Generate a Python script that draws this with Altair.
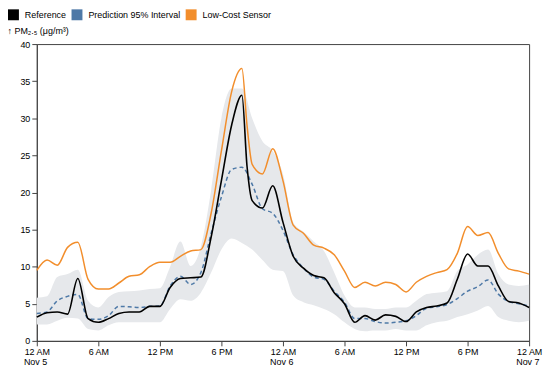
import altair as alt
import pandas as pd

start = "2023-11-05T00:00:00"

# hourly readings, Nov 5 00:00 .. Nov 7 00:00
reference = [3.2, 3.8, 3.9, 3.6, 8.4, 3.0, 2.5, 3.0, 3.7, 3.9, 3.9, 4.65, 4.65,
             7.2, 8.4, 8.5, 8.6, 14.0, 21.6, 29.1, 33.1, 18.9, 17.9, 20.9, 16.0,
             11.4, 9.8, 8.8, 8.5, 6.5, 5.0, 2.5, 3.4, 2.8, 3.5, 3.3, 2.6,
             3.9, 4.5, 4.7, 5.1, 8.3, 11.7, 10.1, 10.1, 7.4, 5.3, 5.1, 4.5]
pred_mean = [3.7, 3.9, 5.4, 6.0, 6.25, 3.0, 2.9, 3.4, 4.65, 4.6, 4.5, 4.65, 4.7,
             7.4, 8.7, 7.6, 9.2, 14.5, 19.4, 23.1, 23.4, 21.1, 17.8, 17.2, 14.9,
             11.6, 9.8, 8.6, 8.3, 6.7, 5.2, 3.0, 3.0, 2.6, 2.4, 2.5, 2.7,
             3.4, 4.4, 4.6, 4.9, 5.7, 6.7, 7.3, 8.2, 6.3, 5.3, 5.0, 4.7]
sensor = [9.5, 10.9, 10.2, 12.6, 13.3, 8.3, 7.0, 7.0, 7.8, 8.7, 8.9, 10.0, 10.6,
          10.6, 11.4, 12.1, 12.3, 17.2, 25.6, 33.6, 36.7, 23.8, 22.5, 25.9, 21.6,
          15.6, 14.5, 12.9, 12.5, 11.6, 9.4, 7.2, 7.9, 7.4, 7.9, 7.6, 6.6,
          7.9, 8.7, 9.2, 9.6, 11.8, 15.4, 14.2, 14.6, 11.8, 9.7, 9.4, 9.0]
pred_hi = [5.8, 6.0, 8.6, 9.0, 9.6, 5.4, 4.5, 5.9, 6.6, 6.7, 6.8, 7.0, 7.1,
           10.0, 13.4, 10.1, 12.7, 20.3, 30.0, 34.0, 34.0, 30.0, 26.9, 25.6, 22.5,
           16.0, 14.7, 13.4, 12.1, 9.2, 6.1, 4.5, 4.5, 4.3, 4.3, 4.5, 4.5,
           5.4, 6.3, 6.5, 6.7, 9.4, 10.3, 11.6, 12.3, 9.0, 7.6, 7.4, 7.6]
pred_lo = [2.2, 2.2, 2.7, 3.1, 3.0, 1.6, 1.4, 2.1, 2.5, 2.5, 2.5, 2.5, 2.5,
           4.3, 5.6, 5.4, 6.5, 9.2, 12.3, 13.8, 13.2, 12.3, 10.9, 9.6, 9.4,
           6.1, 5.2, 4.8, 4.3, 3.6, 2.5, 1.6, 1.3, 1.4, 1.4, 1.6, 1.4,
           1.4, 2.1, 2.5, 2.7, 3.2, 3.6, 4.1, 4.7, 3.2, 2.7, 2.5, 2.7]

# extra half-hour readings (sharp drop after the evening peak)
extra_times = ["2023-11-05T20:30:00"]
extra_reference = [23.5]
extra_sensor = [29.0]

series_names = ["Reference", "Prediction 95% Interval", "Low-Cost Sensor"]
series_colors = ["#000000", "#4e79a7", "#f28e2c"]
y_ticks = [0, 5, 10, 15, 20, 25, 30, 35, 40]
date_times = ["2023-11-05T00:00:00", "2023-11-06T00:00:00", "2023-11-07T00:00:00"]
date_labels = ["Nov 5", "Nov 6", "Nov 7"]

times = pd.date_range(start, periods=len(reference), freq="h")
df = pd.DataFrame({
    "time": times.strftime("%Y-%m-%dT%H:%M:%S"),
    "reference": reference,
    "mean": pred_mean,
    "sensor": sensor,
    "hi": pred_hi,
    "lo": pred_lo,
})
ref_df = pd.concat([
    df[["time", "reference"]],
    pd.DataFrame({"time": extra_times, "reference": extra_reference}),
]).sort_values("time")
sensor_df = pd.concat([
    df[["time", "sensor"]],
    pd.DataFrame({"time": extra_times, "sensor": extra_sensor}),
]).sort_values("time")

legend_df = pd.DataFrame({"series": series_names,
                          "time": [start] * 3,
                          "v": [0] * 3})
dates_df = pd.DataFrame({"time": date_times, "label": date_labels})

FONT = "Liberation Sans"
FS = 9
DARK = "#444444"
W, H = 496, 299

xscale = alt.Scale(nice=False)
yscale = alt.Scale(domain=[0, 40], nice=False)

xaxis = alt.Axis(
    title=None,
    format="%-I %p",
    tickCount=8,
    labelFlush=False, labelOverlap=False,
    tickSize=5, grid=False, labelPadding=2,
)
yaxis = alt.Axis(
    title="↑ PM₂.₅ (μg/m³)", values=y_ticks,
    titleAngle=0, titleAlign="left", titleX=-30, titleY=-9,
    titleFontWeight="normal",
    tickSize=5, grid=False, labelPadding=2,
)

x_enc = alt.X("time:T", scale=xscale, axis=xaxis)

band = alt.Chart(df).mark_area(interpolate="monotone", color="#e6e8eb").encode(
    x=x_enc,
    y=alt.Y("lo:Q", scale=yscale, axis=yaxis),
    y2="hi:Q",
)

legend_layer = alt.Chart(legend_df).mark_point(
    shape="square", filled=True, size=0, opacity=1, strokeWidth=0
).encode(
    x=x_enc,
    y=alt.Y("v:Q", scale=yscale, axis=yaxis),
    color=alt.Color(
        "series:N",
        scale=alt.Scale(domain=series_names, range=series_colors),
        legend=alt.Legend(
            title=None, orient="none", legendX=-29, legendY=-35,
            direction="horizontal", symbolType="square", symbolSize=121,
            symbolStrokeWidth=0, symbolOpacity=1, labelFontSize=FS,
            columnPadding=5, labelOffset=6, labelColor="#000000",
        ),
    ),
)

date_text = alt.Chart(dates_df).mark_text(
    align="left", baseline="top", dx=-13, font=FONT, fontSize=FS,
    color="#000000", clip=False,
).encode(
    x=x_enc,
    y=alt.value(H + 17),
    text="label:N",
)


def line(data, field, color, dash=None, width=1.5):
    kw = dict(interpolate="monotone", color=color, strokeWidth=width)
    if dash:
        kw["strokeDash"] = dash
    return alt.Chart(data).mark_line(**kw).encode(
        x=x_enc,
        y=alt.Y(f"{field}:Q", scale=yscale, axis=yaxis),
    )


orange = line(sensor_df, "sensor", series_colors[2])
blue = line(df, "mean", series_colors[1], dash=[4, 3])
black = line(ref_df, "reference", series_colors[0], width=1.6)

chart = alt.layer(band, legend_layer, orange, blue, black, date_text).properties(
    width=W, height=H,
    autosize=alt.AutoSizeParams(type="none"),
    padding={"left": 29, "top": 35, "right": 15, "bottom": 28},
).configure_view(
    stroke=DARK, strokeWidth=1,
).configure_axis(
    domainColor=DARK, tickColor=DARK, labelColor="#000000",
    labelFont=FONT, titleFont=FONT, labelFontSize=FS, titleFontSize=FS,
    titleColor="#000000",
).configure_legend(
    labelFont=FONT,
)

chart.save("out.html", embed_options={"renderer": "svg", "actions": False})
